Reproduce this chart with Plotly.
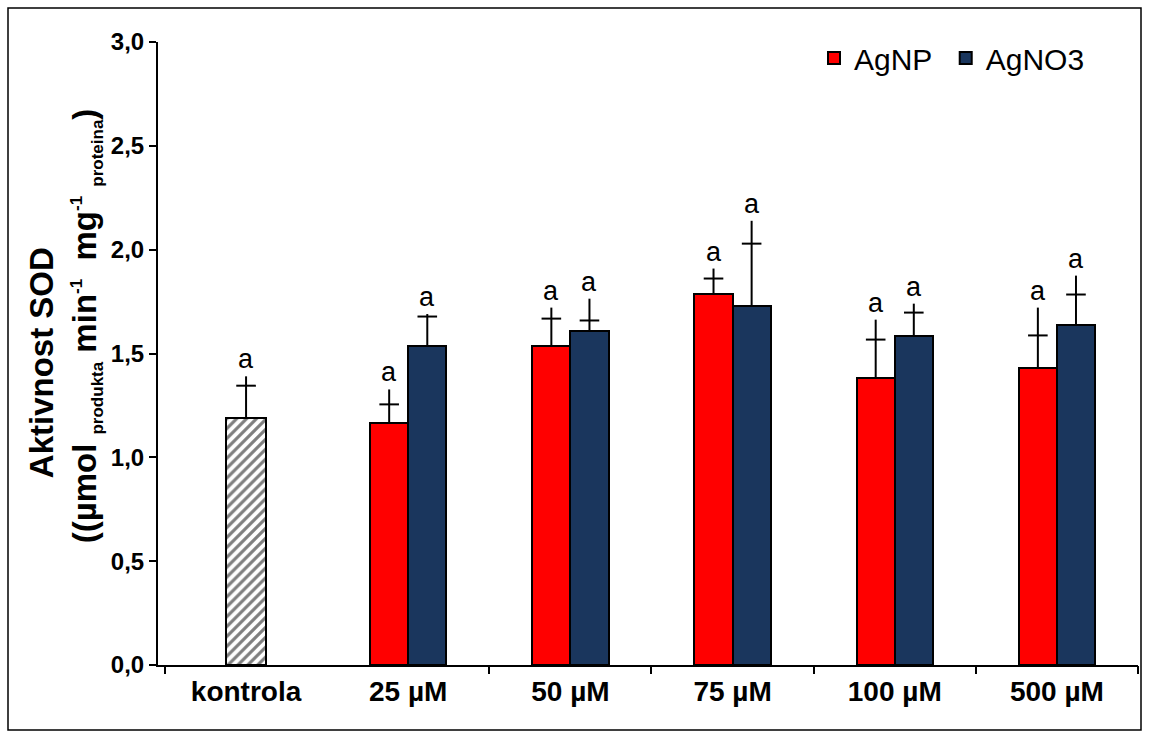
import plotly.graph_objects as go

categories = ["kontrola", "25 µM", "50 µM", "75 µM", "100 µM", "500 µM"]
control_value = [1.19]
control_cap = [1.345]
control_top = [1.39]

agnp_values = [1.165, 1.535, 1.788, 1.38, 1.428]
agnp_caps = [1.255, 1.668, 1.861, 1.567, 1.587]
agnp_tops = [1.327, 1.721, 1.909, 1.663, 1.721]

agno3_values = [1.538, 1.606, 1.731, 1.582, 1.635]
agno3_caps = [1.678, 1.659, 2.029, 1.697, 1.784]
agno3_tops = [1.69, 1.764, 2.139, 1.74, 1.875]

letters_ctrl = ["a"]
letters_agnp = ["a", "a", "a", "a", "a"]
letters_agno3 = ["a", "a", "a", "a", "a"]

W, H = 1150, 731
ML, MR, MT, MB = 158, 12, 42, 66
BW = 0.235
FONT = "Liberation Sans, Arial, sans-serif"
NB = "\u00a0"
pw = W - ML - MR
ph = H - MT - MB


def px_x(p):
    return (p - ML) / pw


def px_y(p):
    return (H - MB - p) / ph


xc = [0]
xg = [1, 2, 3, 4, 5]
x_np = [x - BW / 2 for x in xg]
x_no3 = [x + BW / 2 for x in xg]

fig = go.Figure()

fig.add_trace(go.Bar(
    x=xc, y=control_value, width=0.245, showlegend=False,
    marker=dict(color="white", line=dict(color="black", width=2),
                pattern=dict(shape="/", fgcolor="black", bgcolor="white", size=7, solidity=0.45)),
    error_y=dict(type="data", array=[t - v for t, v in zip(control_top, control_value)],
                 symmetric=False, arrayminus=[0], color="black", thickness=2, width=0),
))
fig.add_trace(go.Bar(
    x=x_np, y=agnp_values, width=BW, name="AgNP" + NB,
    marker=dict(color="#ff0000", line=dict(color="black", width=2)),
    error_y=dict(type="data", array=[t - v for t, v in zip(agnp_tops, agnp_values)],
                 symmetric=False, arrayminus=[0] * 5, color="black", thickness=2, width=0),
))
fig.add_trace(go.Bar(
    x=x_no3, y=agno3_values, width=BW, name="AgNO3",
    marker=dict(color="#1a365d", line=dict(color="black", width=2)),
    error_y=dict(type="data", array=[t - v for t, v in zip(agno3_tops, agno3_values)],
                 symmetric=False, arrayminus=[0] * 5, color="black", thickness=2, width=0),
))

# caps
fig.add_trace(go.Scatter(
    x=xc + x_np + x_no3, y=control_cap + agnp_caps + agno3_caps, mode="markers",
    showlegend=False, hoverinfo="skip",
    marker=dict(symbol="line-ew", size=14, line=dict(color="black", width=2)),
))

# letters
for xs, tops, lets in [(xc, control_top, letters_ctrl), (x_np, agnp_tops, letters_agnp),
                       (x_no3, agno3_tops, letters_agno3)]:
    for x, t, l in zip(xs, tops, lets):
        fig.add_annotation(x=x, y=t, text=l, showarrow=False, yanchor="bottom", yshift=0,
                           font=dict(family=FONT, size=27, color="black"))

fig.add_shape(type="rect", xref="paper", yref="paper",
              x0=px_x(8), x1=px_x(1141), y0=px_y(730), y1=px_y(8),
              line=dict(color="black", width=1.5), fillcolor="rgba(0,0,0,0)", layer="above")

small = "<span style='font-size:17px'>{}</span>"
ytitle = ("Aktivnost SOD" + NB * 2 + "<br>" + NB * 6 + "((µmol <sub>" + small.format("produkta")
          + "</sub> min<sup>" + small.format("-1") + "</sup>  mg<sup>" + small.format("-1")
          + "</sup> <sub>" + small.format("proteina") + "</sub>)")

fig.update_layout(
    width=W, height=H,
    margin=dict(l=ML, r=MR, t=MT, b=MB),
    plot_bgcolor="white", paper_bgcolor="white",
    barmode="overlay", bargap=0,
    separators=", ",
    font=dict(family=FONT, color="black"),
    xaxis=dict(range=[-0.543, 5.5], tickvals=list(range(6)), ticktext=categories,
               ticks="", showline=True, linecolor="black", linewidth=2,
               showgrid=False, zeroline=False,
               tickfont=dict(family=FONT, size=28, color="black", weight="bold")),
    xaxis2=dict(range=[-0.543, 5.5], overlaying="x", anchor="y", side="bottom",
                tickvals=[-0.5, 1.5, 2.5, 3.5, 4.5, 5.5], ticks="outside", ticklen=8,
                tickwidth=2, tickcolor="black", showticklabels=False, showgrid=False,
                zeroline=False, showline=False),
    yaxis=dict(range=[0, 3.0], tickvals=[0, 0.5, 1.0, 1.5, 2.0, 2.5, 3.0], tickformat=".1f",
               ticks="outside", ticklen=7, tickwidth=2, tickcolor="black",
               showline=True, linecolor="black", linewidth=2,
               showgrid=False, zeroline=False,
               tickfont=dict(family=FONT, size=24, color="black", weight="bold"),
               title=dict(text=ytitle,
                          font=dict(family=FONT, size=33, color="black", weight="bold"),
                          standoff=4)),
    legend=dict(orientation="h", x=px_x(1090), xanchor="right", y=px_y(58), yanchor="middle",
                font=dict(family=FONT, size=30, color="black"), bgcolor="rgba(0,0,0,0)",
                itemwidth=30, traceorder="normal"),
)
fig.add_trace(go.Scatter(x=[None], y=[None], xaxis="x2", showlegend=False))

fig.write_html("out.html", config={"displayModeBar": False},
               post_script="document.body.style.margin='0';document.body.style.overflow='hidden';")
